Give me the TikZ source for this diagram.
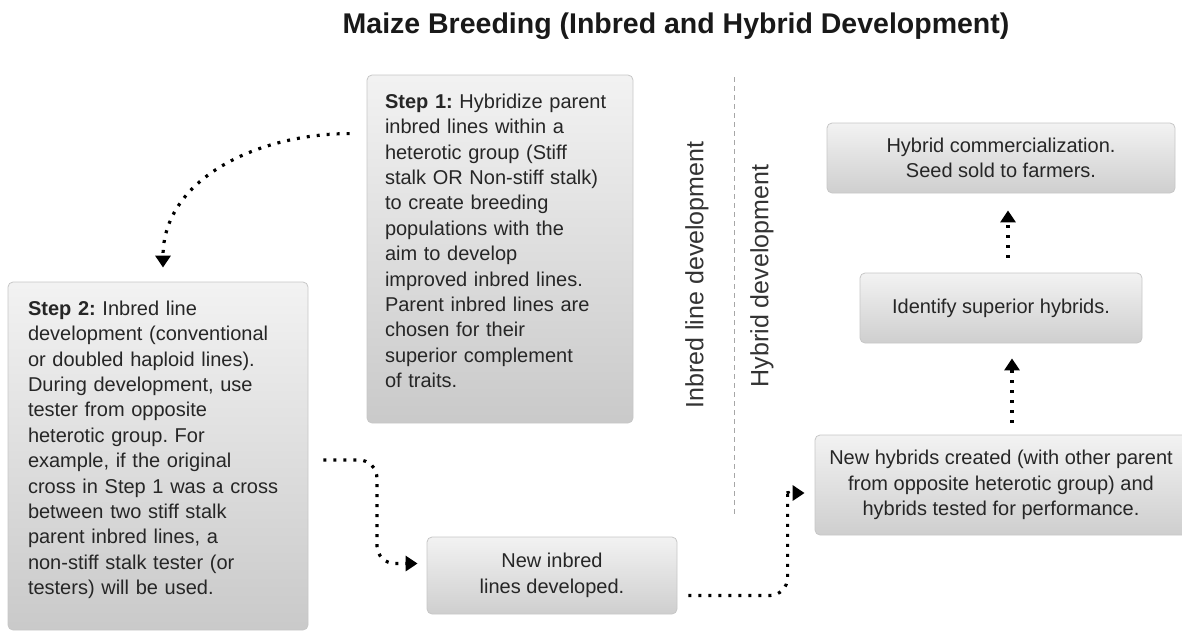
\documentclass[tikz,border=0pt]{standalone}
\usepackage{fontspec}
\setmainfont{Liberation Sans}
\usetikzlibrary{arrows.meta,calc}

\begin{document}
\frenchspacing
\begin{tikzpicture}[
  x=1pt, y=-1pt,
  font=\fontsize{20}{25.4}\selectfont,
  headline/.style={font=\fontsize{28.5}{34}\selectfont\bfseries, text=black!90, anchor=base},
  stepbox/.style={draw=black!22, line width=0.8pt, rounded corners=5pt,
                  top color=black!5, bottom color=black!21, align=left, text=black!85},
  resultbox/.style={draw=black!22, line width=0.8pt, rounded corners=5pt,
                    top color=black!5, bottom color=black!19, align=center, text=black!85},
  phase/.style={rotate=90, font=\fontsize{25}{30}\selectfont, text=black!80},
  flow/.style={-{Triangle[length=12pt,width=15pt]}, line width=3.2pt,
               dash pattern=on 3pt off 7pt, black},
  divider/.style={draw=black!35, line width=0.7pt, dash pattern=on 5pt off 4pt},
]

\useasboundingbox (0,0) rectangle (1182,632);
\clip (0,0) rectangle (1182,632);

% --- Title ---
\node[headline] (title) at (676,33) {Maize Breeding (Inbred and Hybrid Development)};

% --- Inbred line development (text sits a little high in the boxes) ---
\node[stepbox, text width=230pt, inner xsep=18pt, minimum height=348pt] (step1) at (500,249)
  {\textbf{Step 1:} Hybridize parent\\inbred lines within a\\heterotic group (Stiff\\
   stalk OR Non-stiff stalk)\\to create breeding\\populations with the\\aim to develop\\
   improved inbred lines.\\Parent inbred lines are\\chosen for their\\superior complement\\of traits.\\[-9pt]\mbox{}};
\node[stepbox, text width=260pt, inner xsep=20pt, minimum height=348pt] (step2) at (158,456)
  {\textbf{Step 2:} Inbred line\\development (conventional\\or doubled haploid lines).\\
   During development, use\\tester from opposite\\heterotic group. For\\example, if the original\\
   cross in Step 1 was a cross\\between two stiff stalk\\parent inbred lines, a\\
   non-stiff stalk tester (or\\testers) will be used.\\[-9pt]\mbox{}};
\node[resultbox, minimum width=250pt, minimum height=77pt] (newinb) at (552,575.5)
  {New inbred\\lines developed.};

% --- Phase split ---
\draw[divider] (734,77) -- (734,517);
\node[phase] (inbredlab) at (697,275) {Inbred line development};
\node[phase] (hybridlab) at (762,276) {Hybrid development};

% --- Hybrid development ---
\node[resultbox, minimum width=372pt, minimum height=100pt] (newhyb) at (1001,485)
  {New hybrids created (with other parent\\from opposite heterotic group) and\\hybrids tested for performance.};
\node[resultbox, minimum width=282pt, minimum height=70pt] (ident) at (1001,308)
  {Identify superior hybrids.};
\node[resultbox, minimum width=348pt, minimum height=70pt] (comm) at (1001,158)
  {Hybrid commercialization.\\Seed sold to farmers.};

% --- Flow arrows ---
\draw[flow] ([xshift=-17pt,yshift=-59pt]step1.north west) to[out=180,in=90]
  ([xshift=5pt,yshift=14pt]step2.north);
\draw[flow, rounded corners=18pt] ([xshift=15pt,yshift=-4pt]step2.east)
  -| ($(step2.east)!0.58!(newinb.west)$) |- ([xshift=-9pt,yshift=12pt]newinb.west);
\draw[flow, rounded corners=18pt] ([xshift=11pt,yshift=-20pt]newinb.east)
  -| ([xshift=-27pt,yshift=-22pt]newhyb.west) to[out=90,in=180] ([xshift=-10pt,yshift=-8pt]newhyb.west);
\draw[flow] ([xshift=11pt,yshift=12pt]newhyb.north) -- ([xshift=11pt,yshift=-15pt]ident.south);
\draw[flow] ([xshift=7pt,yshift=15pt]ident.north) -- ([xshift=7pt,yshift=-17pt]comm.south);

\end{tikzpicture}
\end{document}
